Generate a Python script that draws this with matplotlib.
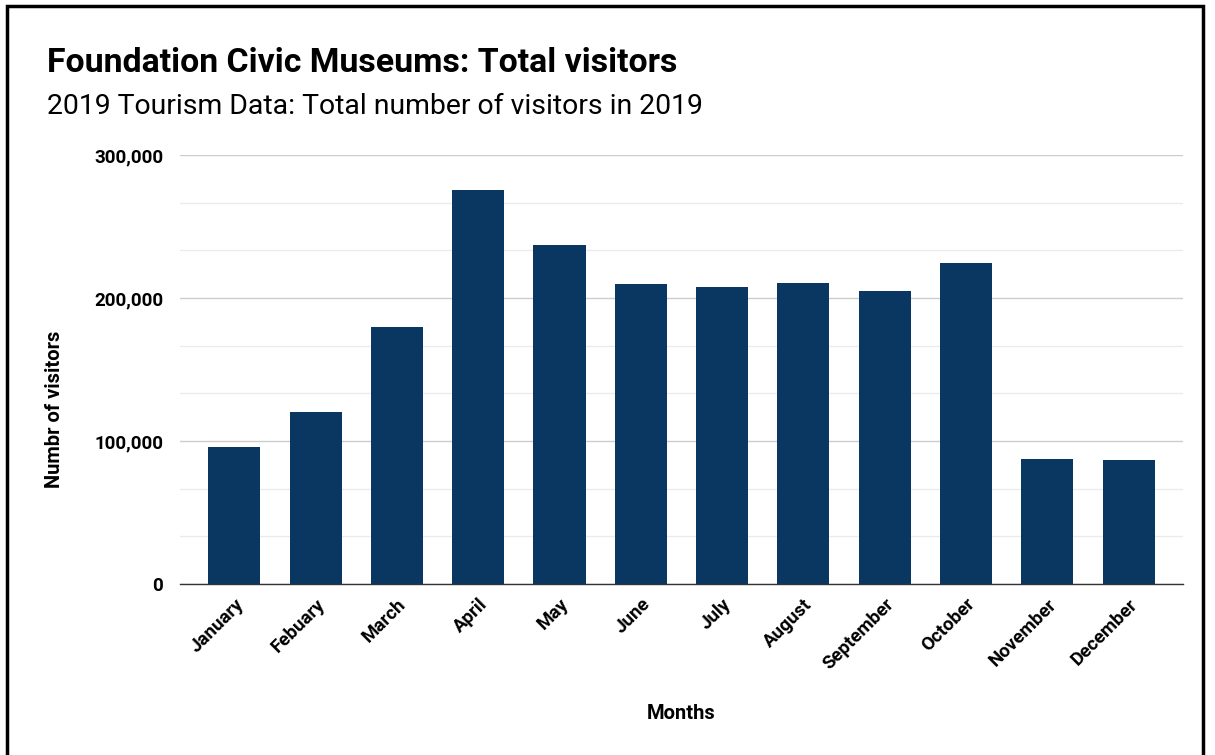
import matplotlib.pyplot as plt
from matplotlib.patches import Rectangle
from matplotlib.ticker import FuncFormatter, MultipleLocator

plt.rcParams['font.family'] = ['Roboto', 'DejaVu Sans']

months = ['January', 'Febuary', 'March', 'April', 'May', 'June', 'July',
          'August', 'September', 'October', 'November', 'December']
visitors = [96000, 120000, 180000, 275500, 237000, 210000, 208000,
            210500, 205000, 224500, 87500, 86500]

fig = plt.figure(figsize=(12.15, 7.55), dpi=100)
ax = fig.add_axes([0.148, 0.2265, 0.8257, 0.5682])

ax.bar(range(len(months)), visitors, width=0.64, color='#0a3761', zorder=3)

ax.set_ylim(0, 300000)
ax.set_xlim(-0.67, len(months) - 1 + 0.67)
ax.yaxis.set_major_locator(MultipleLocator(100000))
ax.yaxis.set_minor_locator(MultipleLocator(100000 / 3))
ax.yaxis.set_major_formatter(FuncFormatter(lambda v, p: f'{int(v):,}'))
ax.grid(axis='y', which='major', color='#cccccc', linewidth=1.0, zorder=0)
ax.grid(axis='y', which='minor', color='#ebebeb', linewidth=1.0, zorder=0)

for s in ['top', 'right', 'left']:
    ax.spines[s].set_visible(False)
ax.spines['bottom'].set_color('#333333')
ax.spines['bottom'].set_linewidth(1.0)
ax.spines['bottom'].set_zorder(4)

ax.tick_params(axis='both', which='both', length=0)
ax.tick_params(axis='y', pad=12)
ax.tick_params(axis='x', pad=8)
ax.set_xticks(range(len(months)))
ax.set_xticklabels(months, rotation=45, ha='right', va='top',
                   rotation_mode='anchor', fontsize=13.5, fontweight='bold')
for lbl in ax.get_yticklabels():
    lbl.set_fontsize(13.5)
    lbl.set_fontweight('bold')

ax.set_xlabel('Months', fontsize=14.5, fontweight='bold')
ax.xaxis.set_label_coords(0.5, -0.28)
ax.set_ylabel('Numbr of visitors', fontsize=14.5, fontweight='bold')
ax.yaxis.set_label_coords(-0.115, 0.408)

fig.text(47 / 1215, 1 - 72 / 755, 'Foundation Civic Museums: Total visitors',
         fontsize=24.4, fontweight='bold', ha='left', va='baseline')
fig.text(47 / 1215, 1 - 114 / 755, '2019 Tourism Data: Total number of visitors in 2019',
         fontsize=20.4, ha='left', va='baseline')

fig.patches.append(Rectangle((7 / 1215, -0.02), 1196 / 1215, 1.02 - 6 / 755,
                             transform=fig.transFigure, fill=False,
                             edgecolor='black', linewidth=2.5))

fig.savefig('out.png', dpi=100)
